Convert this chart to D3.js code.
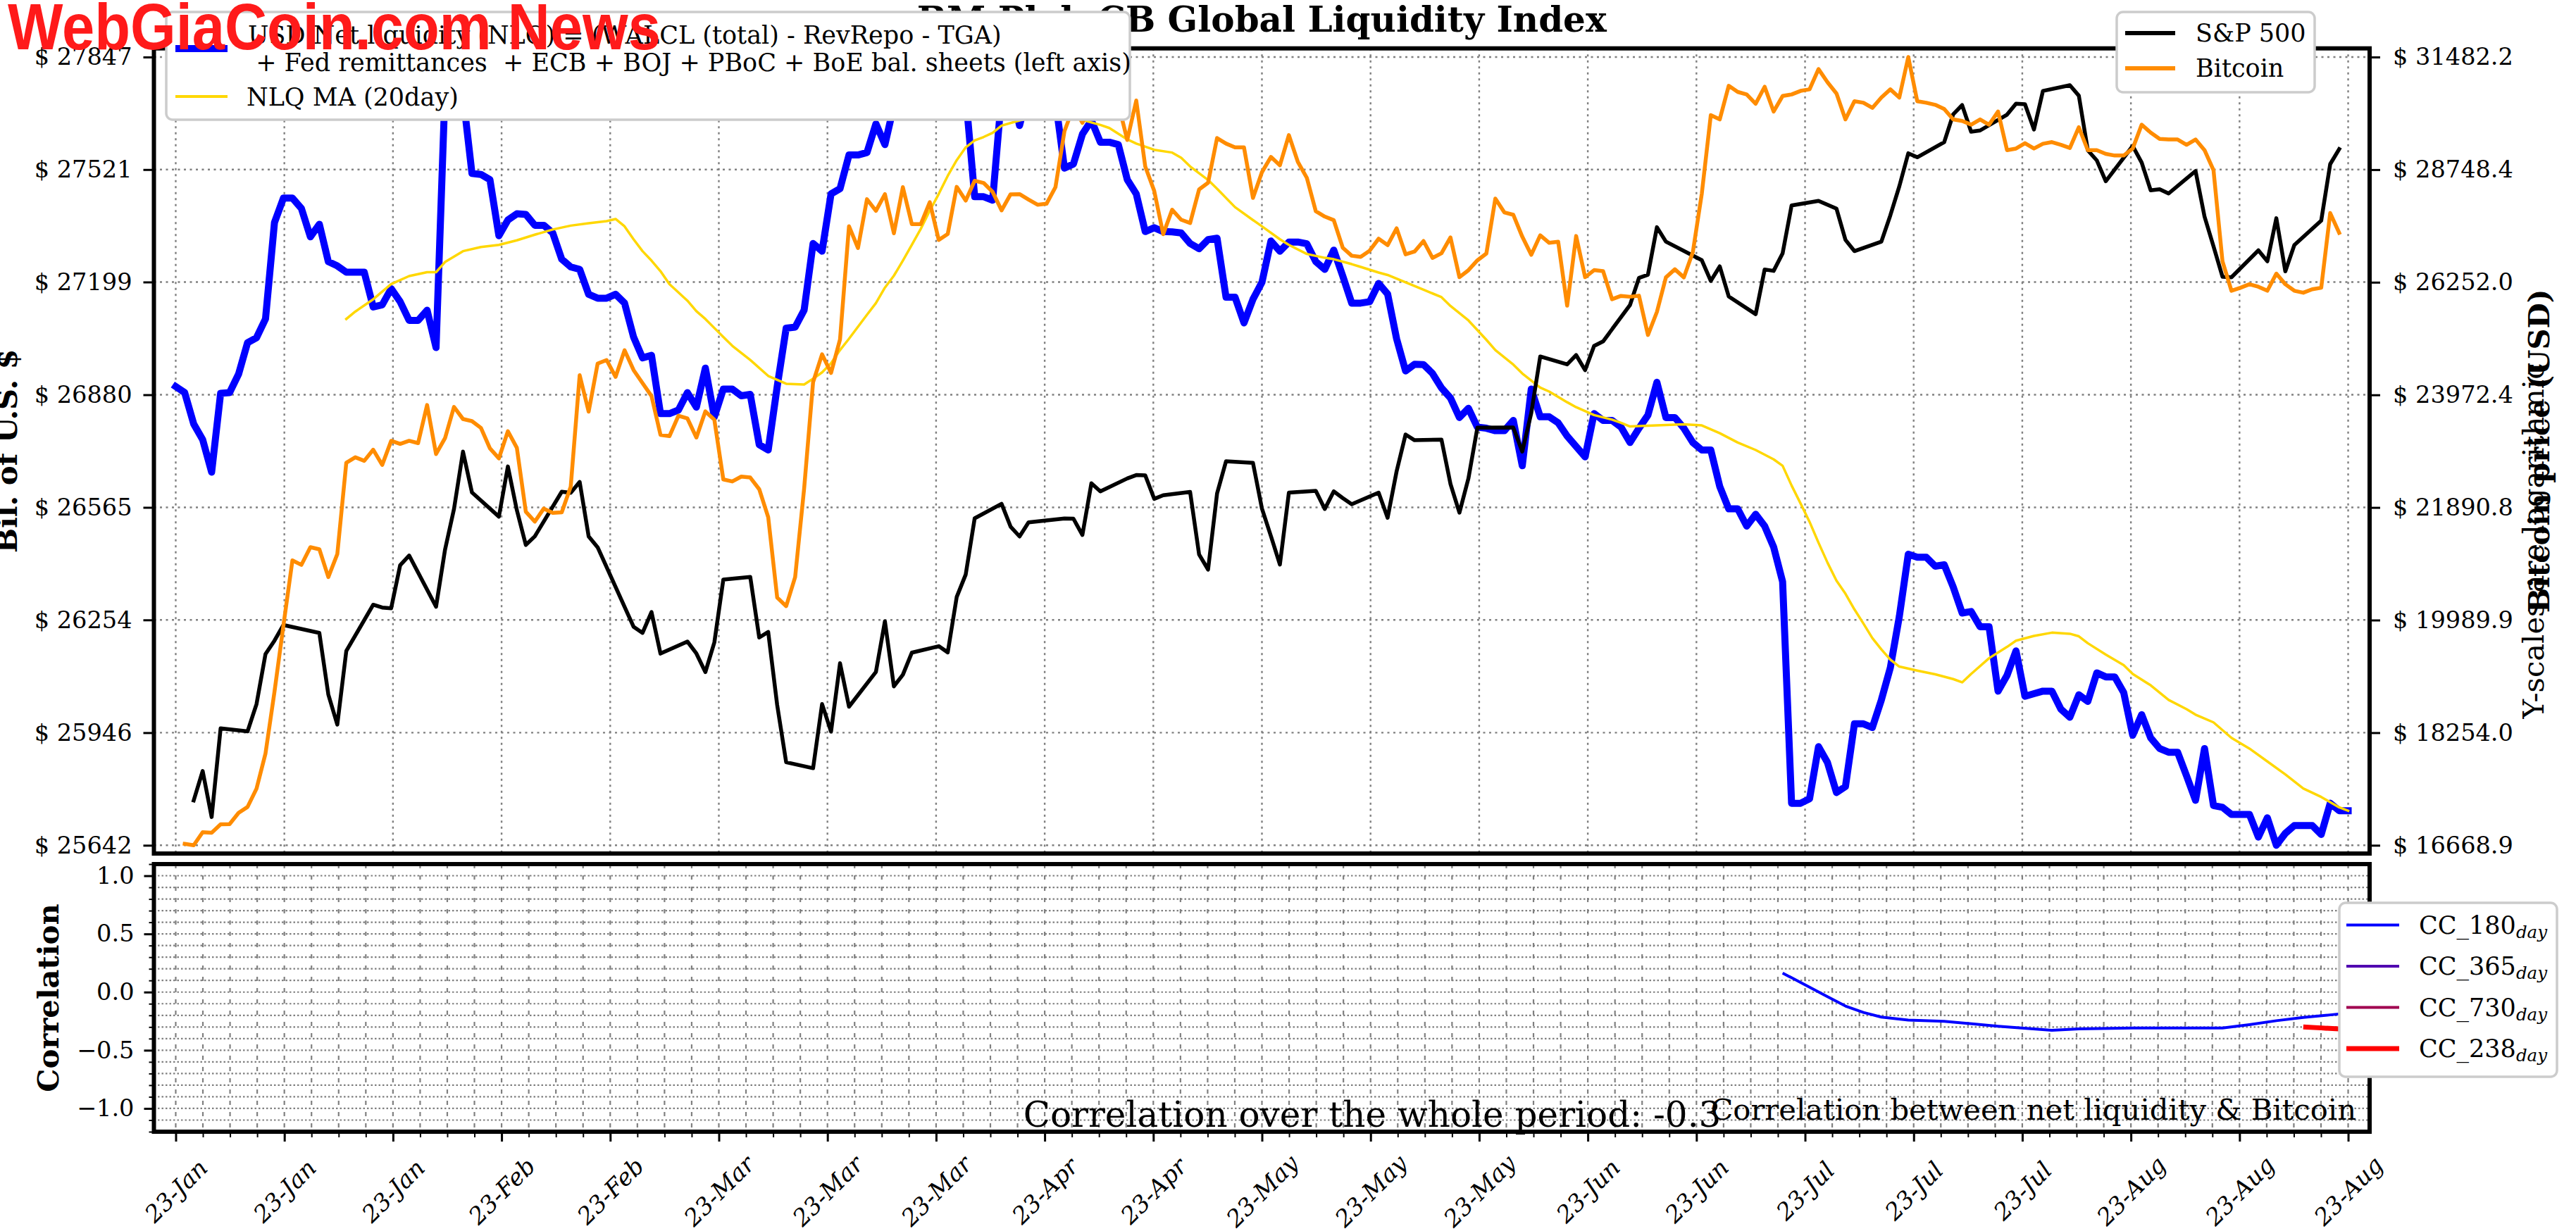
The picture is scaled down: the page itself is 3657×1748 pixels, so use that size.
<!DOCTYPE html>
<html><head><meta charset="utf-8">
<script src="https://cdn.jsdelivr.net/npm/d3@7"></script>
<style>
html,body{margin:0;padding:0;background:#fff;}
svg{display:block;font-family:"DejaVu Serif",serif;}
</style></head><body>
<svg id="chart" width="3657" height="1748"></svg>
<script>
// ---------------- DATA ----------------
const seriesStart = "2023-01-01";           // day 0 of every "day" array below
const nlqStartDay = 0;                      // NLQ is daily from 2023-01-01
const nlqValues = [26903,26886,26798,26754,26663,26884,26886,26938,27027,27041,27094,27369,27439,27439,27409,27328,27364,27257,27245,27227,
27227,27227,27128,27134,27180,27143,27090,27090,27119,27013,27751,27796,27736,27510,27507,27492,27331,27376,27394,27392,
27361,27361,27339,27264,27242,27235,27164,27153,27153,27164,27139,27043,26984,26991,26827,26827,26837,26886,26845,26955,
26818,26896,26896,26877,26881,26740,26725,26903,27068,27071,27119,27309,27287,27451,27466,27563,27563,27570,27653,27593,
27706,27736,27766,27751,27781,27847,27766,27781,27736,27443,27443,27433,27736,27766,27648,27751,27796,27781,27721,27525,
27537,27623,27663,27600,27600,27593,27492,27451,27343,27354,27343,27342,27339,27309,27294,27320,27324,27156,27156,27083,
27150,27198,27316,27287,27313,27313,27308,27257,27235,27290,27216,27139,27139,27143,27195,27165,27038,26947,26966,26965,
26940,26899,26871,26816,26842,26789,26786,26779,26779,26808,26681,26896,26818,26818,26801,26764,26735,26706,26827,26808,
26808,26789,26746,26786,26823,26915,26816,26816,26786,26746,26725,26725,26623,26561,26561,26513,26546,26513,26455,26359,
25755,25755,25767,25908,25865,25784,25800,25970,25970,25960,26035,26123,26263,26435,26427,26427,26402,26406,26345,26273,
26277,26235,26235,26059,26102,26169,26045,26052,26059,26059,26010,25988,26049,26031,26109,26098,26098,26055,25939,25995,
25932,25903,25893,25893,25829,25763,25903,25749,25744,25725,25725,25725,25664,25716,25642,25674,25695,25695,25695,25671,
25755,25735,25735];

const maDays = [19,20,22,24,26,28,29,30,32,34,36,38,40,42,44,46,48,49,50,51,52,53,54,55,57,58,59,61,62,64,66,68,70,71,72,73,74,75,76,77,78,79,
80,81,82,83,84,85,86,87,88,89,90,91,92,94,96,98,100,102,103,104,106,107,109,111,112,113,115,116,118,120,121,123,124,126,128,129,131,132,134,135,
137,139,141,142,144,146,147,149,150,152,153,155,156,158,160,161,162,165,168,170,172,174,176,178,179,180,181,182,183,184,185,186,187,188,189,190,
191,192,194,196,198,199,200,202,204,205,207,209,211,212,213,215,217,218,220,222,224,225,227,229,231,233,235,237,239,241,242];
const maValues = [27094,27115,27150,27193,27216,27227,27227,27256,27287,27299,27305,27318,27334,27349,27360,27367,27373,27379,27358,27321,27287,27260,27230,27193,27146,27116,27094,27043,27018,26978,26933,26911,26909,26925,26943,26969,27006,27038,27072,27106,27139,27183,
27217,27260,27305,27351,27403,27451,27503,27548,27585,27605,27615,27627,27648,27663,27675,27678,27672,27657,27650,27641,27608,27596,27578,27570,27555,27530,27491,27466,27413,27376,27358,27321,27305,27279,27268,27264,27250,27242,27226,27219,
27198,27177,27156,27131,27090,27035,27006,26965,26940,26900,26889,26859,26845,26823,26810,26801,26791,26794,26797,26794,26772,26746,26725,26699,26681,26626,26576,26525,26467,26412,26362,26326,26283,26244,26204,26173,
26145,26126,26115,26105,26092,26083,26106,26149,26180,26197,26210,26219,26216,26209,26190,26159,26130,26106,26075,26035,26010,25995,25974,25932,25903,25868,25833,25795,25772,25744,25735];

const btcStartDay = 1;                      // Bitcoin is daily from 2023-01-02
const btcValues = [16688,16668.9,16845,16839,16953,16956,17110,17192,17448,17950,18865,19905,20976,20900,21200,21165,20695,21083,22695,22795,
22730,22935,22655,23100,23043,23100,23057,23777,22855,23150,23740,23510,23470,23342,22960,22775,23280,22970,21815,21643,
21871,21796,21805,22260,24355,23650,24585,24655,24323,24852,24457,24200,23950,23212,23187,23573,23520,23162,23655,23496,
22392,22355,22443,22426,22215,21721,20357,20216,20694,22225,24221,24769,24400,25069,27465,26988,28071,27809,28185,27310,
28345,27511,27512,28003,27162,27295,28352,28040,28492,28441,28238,27820,28182,28186,28062,27946,27968,28345,29653,30235,
29856,30391,30485,30318,30315,29445,30397,28822,28260,27290,27834,27610,27537,28294,28447,29490,29360,29270,29270,28100,
28690,29045,28850,29560,28930,28560,27800,27680,27600,26995,26820,26796,26930,27190,27050,27420,26850,26910,27140,26773,
26873,27220,26360,26508,26720,26868,28085,27775,27720,27235,26840,27265,27100,27125,25760,27250,26360,26510,26490,25895,
25965,25947,25969,25159,25632,26355,26528,26355,26896,28200,30039,29938,30761,30609,30546,30318,30736,30128,30508,30546,
30634,30672,31178,30849,30571,29938,30381,30343,30217,30470,30672,30470,31482.2,30381,30343,30292,30191,29938,29900,29811,
29938,29811,30128,29204,29242,29369,29242,29356,29394,29331,29255,29749,29204,29204,29116,29078,29078,29242,29811,29621,
29469,29457,29457,29331,29457,29204,28737,26700,26073,26136,26210,26157,26073,26436,26210,26073,26031,26105,26136,27759,
27321];

const spxDays = [2,3,4,5,8,9,10,11,12,16,17,18,19,22,23,24,25,26,29,30,31,32,33,36,37,38,39,40,43,44,45,46,47,51,52,53,54,57,58,59,60,61,
64,65,66,67,68,71,72,73,74,75,78,79,80,81,82,85,86,87,88,89,92,93,94,95,99,100,101,102,103,106,107,108,109,110,113,114,115,116,117,
120,121,122,123,124,127,128,129,130,131,134,135,136,137,138,141,142,143,144,145,149,150,151,152,155,156,157,158,159,162,163,164,165,166,
170,171,172,173,176,177,178,179,180,183,185,186,187,190,191,192,193,194,197,198,199,200,201,204,205,206,207,208,211,212,213,214,215,
218,219,220,221,222,225,226,227,228,229,232,233,234,235,236,239,240,241];
const spxValues = [3824.14,3852.97,3808.10,3895.08,3892.09,3919.25,3969.61,3983.17,3999.09,3990.97,3928.86,3898.85,3972.61,4019.81,4016.95,4016.22,4060.43,4070.56,4017.77,4076.60,
4119.21,4179.76,4136.48,4111.08,4164.00,4117.86,4081.50,4090.46,4137.29,4136.13,4147.60,4090.41,4079.09,3997.34,3991.05,4012.32,3970.04,3982.24,3970.15,3951.39,3981.35,4045.64,
4048.42,3986.37,3992.01,3918.32,3861.59,3855.76,3919.29,3891.93,3960.28,3916.64,3951.57,4002.87,3936.97,3948.72,3970.99,3977.53,3971.27,4027.81,4050.83,4109.31,
4124.51,4100.60,4090.38,4105.02,4109.11,4108.94,4091.95,4146.22,4137.64,4151.32,4154.87,4154.52,4129.79,4133.52,4137.04,4071.63,4055.99,4135.35,4169.48,
4167.87,4119.58,4090.75,4061.22,4136.25,4138.12,4119.17,4137.64,4130.62,4124.08,4136.28,4109.90,4158.77,4198.05,4191.98,4192.63,4145.58,4115.24,4151.28,4205.45,
4205.52,4179.83,4221.02,4282.37,4273.79,4283.85,4267.52,4293.93,4298.86,4338.93,4369.01,4372.59,4425.84,4409.59,
4388.71,4365.69,4381.89,4348.33,4328.82,4378.41,4376.86,4396.44,4450.38,4455.59,4446.82,4411.59,4398.95,4409.53,4439.26,4472.16,4510.04,4505.42,
4522.79,4554.98,4565.72,4534.87,4536.34,4554.64,4567.46,4566.75,4537.41,4582.23,4588.96,4576.73,4513.39,4501.89,4478.03,
4518.44,4499.38,4467.71,4468.83,4464.05,4489.72,4437.86,4404.33,4370.36,4369.71,4399.77,4387.55,4436.01,4376.31,4405.71,4433.31,4497.63,4514.87];

const cc180Days = [179,184,186,188,190,193,197,203,209,212,218,228,231,234,237,240,242];
const cc180Values = [0.164,-0.04,-0.12,-0.175,-0.215,-0.24,-0.251,-0.293,-0.329,-0.317,-0.309,-0.309,-0.28,-0.246,-0.218,-0.196,-0.18];
const cc238Days = [237,239,241,242];
const cc238Values = [-0.300,-0.308,-0.317,-0.321];

const leftTicks = [25642,25946,26254,26565,26880,27199,27521,27847];
const rightTicks = [16668.9,18254.0,19989.9,21890.8,23972.4,26252.0,28748.4,31482.2];
const corrTicks = [-1.0,-0.5,0.0,0.5,1.0];
const xTickLabels = ["23-Jan","23-Jan","23-Jan","23-Feb","23-Feb","23-Mar","23-Mar","23-Mar","23-Apr","23-Apr","23-May",
"23-May","23-May","23-Jun","23-Jun","23-Jul","23-Jul","23-Jul","23-Aug","23-Aug","23-Aug"];
const xTickRange = ["2023-01-01","2023-08-31"];

const legendMain = [
  {lines:["USD Net liquidity (NLQ) = (WALCL (total) - RevRepo - TGA)"," + Fed remittances  + ECB + BOJ + PBoC + BoE bal. sheets (left axis)"], color:"#0000ff", w:10},
  {lines:["NLQ MA (20day)"], color:"#ffd700", w:4}
];
const legendRight = [{label:"S&P 500", color:"#000000", w:6},{label:"Bitcoin", color:"#ff8c00", w:6}];
const legendCorr = [{n:"180", color:"#0000ff", w:4},{n:"365", color:"#5000b0", w:4},{n:"730", color:"#a0004f", w:4},{n:"238", color:"#ff0000", w:7}];

// ---------------- LAYOUT ----------------
const DAY = 864e5;
const parse = d3.utcParse("%Y-%m-%d");
const t0 = parse(seriesStart);
const atDay = d => d3.utcDay.offset(t0, d);
const svg = d3.select("#chart");
const FONT = "DejaVu Serif";
const L = 218.5, R = 3364, T = 68.7, B = 1212, T2 = 1227, B2 = 1607;

const x = d3.scaleUtc().domain([new Date(+t0 - 2.43*DAY), new Date(+t0 + 244.39*DAY)]).range([L, R]);
const yL = d3.scaleLog().domain([25642, 27847]).range([1200.3, 81]);
const yR = d3.scaleLog().domain([16668.9, 31482.2]).range([1200.3, 81]);
const yS = d3.scaleLog().domain([3808.1, 4588.96]).range([1160.1, 121.0]);
const yC = d3.scaleLinear().domain([-1.2, 1.1]).range([B2, T2]);

const xs = parse(xTickRange[0]), xe = parse(xTickRange[1]);
const tickDates = d3.range(21).map(i => new Date(+xs + (xe - xs) * i / 20));
const minorDates = d3.range(81).map(i => new Date(+xs + (xe - xs) * i / 80));

svg.append("rect").attr("width",3657).attr("height",1748).attr("fill","#fff");

const defs = svg.append("defs");
defs.append("clipPath").attr("id","clipMain").append("rect").attr("x",L).attr("y",T).attr("width",R-L).attr("height",B-T);
defs.append("clipPath").attr("id","clipCorr").append("rect").attr("x",L).attr("y",T2).attr("width",R-L).attr("height",B2-T2);

// ---- Title
svg.append("text").attr("x",(L+R)/2).attr("y",45).attr("text-anchor","middle")
  .attr("font-family",FONT).attr("font-weight","bold").attr("font-size",50)
  .text("BM Plab CB Global Liquidity Index");

// ---- Main grid
const gGrid = svg.append("g").attr("stroke","#808080").attr("stroke-width",2.4).attr("stroke-dasharray","3 5.5");
gGrid.selectAll(".vg").data(tickDates).join("line")
  .attr("x1",d=>x(d)).attr("x2",d=>x(d)).attr("y1",T).attr("y2",B);
gGrid.selectAll(".hg").data(leftTicks).join("line")
  .attr("x1",L).attr("x2",R).attr("y1",d=>yL(d)).attr("y2",d=>yL(d));

// ---- Main lines
const gLines = svg.append("g").attr("clip-path","url(#clipMain)").attr("fill","none")
  .attr("stroke-linejoin","round").attr("stroke-linecap","square");
const nlq = nlqValues.map((v,i)=>({d:atDay(nlqStartDay+i), v}));
const ma = maValues.map((v,i)=>({d:atDay(maDays[i]), v}));
const btc = btcValues.map((v,i)=>({d:atDay(btcStartDay+i), v}));
const spx = spxValues.map((v,i)=>({d:atDay(spxDays[i]), v}));
gLines.append("path").datum(nlq).attr("stroke","#0000ff").attr("stroke-width",10)
  .attr("d", d3.line().x(p=>x(p.d)).y(p=>yL(p.v)));
gLines.append("path").datum(ma).attr("stroke","#ffd700").attr("stroke-width",3.5)
  .attr("d", d3.line().x(p=>x(p.d)).y(p=>yL(p.v)));
gLines.append("path").datum(spx).attr("stroke","#000000").attr("stroke-width",5.5)
  .attr("d", d3.line().x(p=>x(p.d)).y(p=>yS(p.v)));
gLines.append("path").datum(btc).attr("stroke","#ff8c00").attr("stroke-width",5.5)
  .attr("d", d3.line().x(p=>x(p.d)).y(p=>yR(p.v)));

// ---- Main axes
function styleAxis(g, size, lw){
  g.select(".domain").remove();
  g.selectAll(".tick line").attr("stroke","#000").attr("stroke-width",lw);
  g.selectAll(".tick text").attr("font-family",FONT).attr("font-size",size).attr("fill","#000");
}
const gyl = svg.append("g").attr("transform",`translate(${L},0)`)
  .call(d3.axisLeft(yL).tickValues(leftTicks).tickFormat(d=>"$ "+d).tickSize(15).tickPadding(16));
styleAxis(gyl, 33.6, 3);
const gyr = svg.append("g").attr("transform",`translate(${R},0)`)
  .call(d3.axisRight(yR).tickValues(rightTicks).tickFormat(d=>"$ "+d.toFixed(1)).tickSize(15).tickPadding(18));
styleAxis(gyr, 33.6, 3);

svg.append("rect").attr("x",L).attr("y",T).attr("width",R-L).attr("height",B-T)
  .attr("fill","none").attr("stroke","#000").attr("stroke-width",6);

// axis labels
svg.append("text").attr("transform",`translate(24,${(T+B)/2}) rotate(-90)`).attr("text-anchor","middle")
  .attr("font-family",FONT).attr("font-weight","bold").attr("font-size",41.7).text("Bil. of U.S. $");
svg.append("text").attr("transform",`translate(3611,768) rotate(-90)`).attr("text-anchor","middle")
  .attr("font-family",FONT).attr("font-size",41.7).text("Y-scales are logarithmic");
svg.append("text").attr("transform",`translate(3619,${(T+B)/2}) rotate(-90)`).attr("text-anchor","middle")
  .attr("font-family",FONT).attr("font-weight","bold").attr("font-size",41.7).text("Bitcoin price (USD)");

// ---- Correlation panel
const gGrid2 = svg.append("g").attr("stroke","#808080").attr("stroke-width",2.2);
gGrid2.selectAll(".vg").data(minorDates.filter(d=>x(d)>L+2 && x(d)<R-2)).join("line")
  .attr("x1",d=>x(d)).attr("x2",d=>x(d)).attr("y1",T2).attr("y2",B2).attr("stroke-dasharray","6 10");
const corrMinor = d3.range(-12, 12).map(i => i/10);
gGrid2.selectAll(".hg").data(corrMinor.filter(v=>yC(v)>T2+2 && yC(v)<B2-2)).join("line")
  .attr("x1",L).attr("x2",R).attr("y1",d=>yC(d)).attr("y2",d=>yC(d)).attr("stroke-dasharray","2.5 3");

const gCorr = svg.append("g").attr("clip-path","url(#clipCorr)").attr("fill","none").attr("stroke-linejoin","round");
gCorr.append("path").datum(cc180Values.map((v,i)=>({d:atDay(cc180Days[i]),v})))
  .attr("stroke","#0000ff").attr("stroke-width",4).attr("d", d3.line().x(p=>x(p.d)).y(p=>yC(p.v)));
gCorr.append("path").datum(cc238Values.map((v,i)=>({d:atDay(cc238Days[i]),v})))
  .attr("stroke","#ff0000").attr("stroke-width",7).attr("d", d3.line().x(p=>x(p.d)).y(p=>yC(p.v)));

svg.append("text").attr("x",1948).attr("y",1600).attr("text-anchor","middle")
  .attr("font-family",FONT).attr("font-size",50).text("Correlation over the whole period: -0.3");
svg.append("text").attr("x",3345).attr("y",1590).attr("text-anchor","end")
  .attr("font-family",FONT).attr("font-size",41.7).text("Correlation between net liquidity & Bitcoin");

const gyc = svg.append("g").attr("transform",`translate(${L},0)`)
  .call(d3.axisLeft(yC).tickValues(corrTicks).tickFormat(d3.format(".1f")).tickSize(14).tickPadding(14));
styleAxis(gyc, 33.6, 3);
const gycm = svg.append("g").attr("transform",`translate(${L},0)`)
  .call(d3.axisLeft(yC).tickValues(corrMinor.filter(v=>Math.abs(v*2-Math.round(v*2))>1e-6)).tickFormat("").tickSize(7));
styleAxis(gycm, 10, 2);

const gx = svg.append("g").attr("transform",`translate(0,${B2})`)
  .call(d3.axisBottom(x).tickValues(tickDates).tickFormat((d,i)=>xTickLabels[i]).tickSize(14));
styleAxis(gx, 33.6, 3);
gx.selectAll(".tick text").attr("y",0).attr("dy","0.35em").attr("text-anchor","middle")
  .attr("font-style","italic").attr("transform","translate(0,84) rotate(-45)");
const gxm = svg.append("g").attr("transform",`translate(0,${B2})`)
  .call(d3.axisBottom(x).tickValues(minorDates).tickFormat("").tickSize(8));
styleAxis(gxm, 10, 2);

svg.append("rect").attr("x",L).attr("y",T2).attr("width",R-L).attr("height",B2-T2)
  .attr("fill","none").attr("stroke","#000").attr("stroke-width",6);
svg.append("text").attr("transform",`translate(83,${(T2+B2)/2}) rotate(-90)`).attr("text-anchor","middle")
  .attr("font-family",FONT).attr("font-weight","bold").attr("font-size",41.7).text("Correlation");

// ---- Legends
function box(x0,y0,w,h){
  svg.append("rect").attr("x",x0).attr("y",y0).attr("width",w).attr("height",h).attr("rx",9)
    .attr("fill","#fff").attr("stroke","#cccccc").attr("stroke-width",3.5);
}
box(236,17,1368,153);
const lm = svg.append("g").attr("font-family",FONT).attr("font-size",35);
lm.append("line").attr("x1",249).attr("x2",323).attr("y1",69).attr("y2",69).attr("stroke",legendMain[0].color).attr("stroke-width",legendMain[0].w);
legendMain[0].lines.forEach((t,i)=>lm.append("text").attr("x",352).attr("y",62+i*38.5).attr("xml:space","preserve").text(t));
lm.append("line").attr("x1",249).attr("x2",323).attr("y1",137).attr("y2",137).attr("stroke",legendMain[1].color).attr("stroke-width",legendMain[1].w);
lm.append("text").attr("x",350).attr("y",150).text(legendMain[1].lines[0]);

box(3005,17,281,114);
const lr = svg.append("g").attr("font-family",FONT).attr("font-size",35);
legendRight.forEach((e,i)=>{
  const yy = 47 + i*50;
  lr.append("line").attr("x1",3017).attr("x2",3088).attr("y1",yy).attr("y2",yy).attr("stroke",e.color).attr("stroke-width",e.w);
  lr.append("text").attr("x",3117).attr("y",yy+12).text(e.label);
});

box(3321,1282,309,247);
const lc = svg.append("g").attr("font-family",FONT).attr("font-size",35);
legendCorr.forEach((e,i)=>{
  const yy = 1313.6 + i*58.5;
  lc.append("line").attr("x1",3331).attr("x2",3406).attr("y1",yy).attr("y2",yy).attr("stroke",e.color).attr("stroke-width",e.w);
  const t = lc.append("text").attr("x",3434).attr("y",yy+12);
  t.append("tspan").text("CC_"+e.n);
  t.append("tspan").attr("font-size",24.5).attr("font-style","italic").attr("dy",6).text("day");
});

// ---- Watermark overlay
svg.append("text").attr("x",11).attr("y",70).attr("textLength",927).attr("lengthAdjust","spacingAndGlyphs")
  .attr("font-family","'Liberation Sans Narrow','Liberation Sans',Arial,sans-serif").attr("font-weight","bold")
  .attr("font-size",92).attr("fill","#ff1a1a").text("WebGiaCoin.com News");
</script>
</body></html>
